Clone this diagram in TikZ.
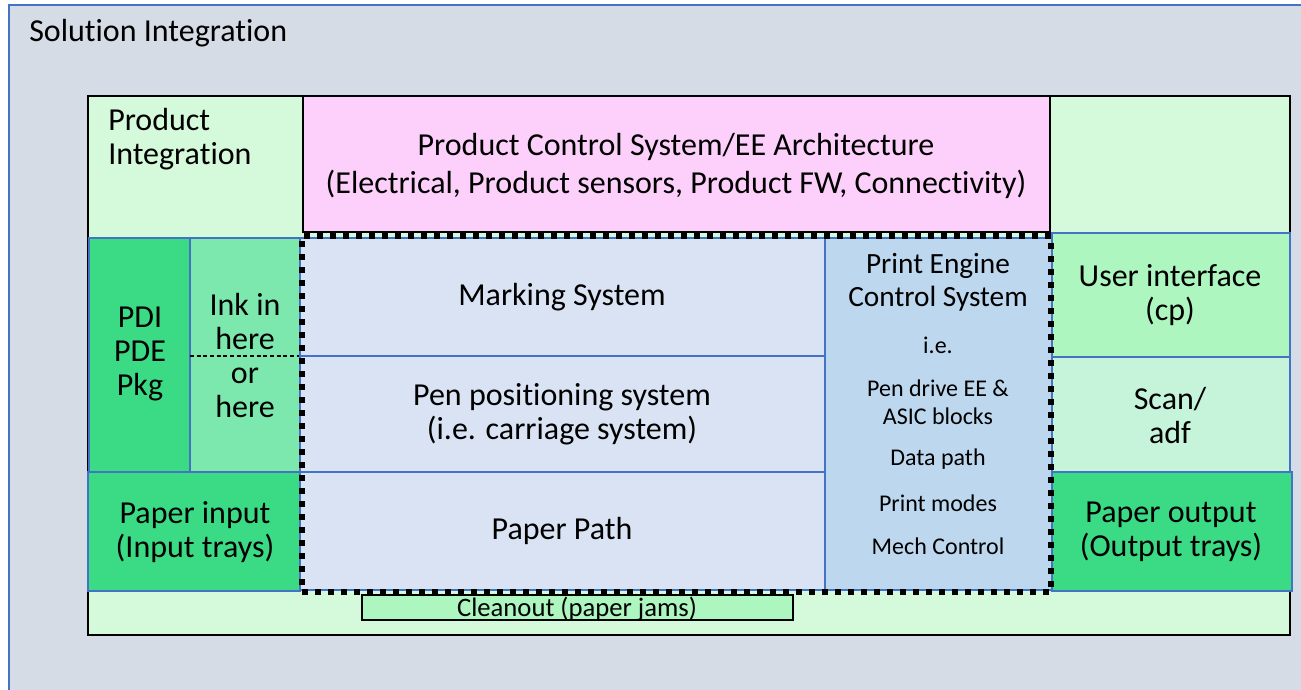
\documentclass[tikz,border=0pt]{standalone}
\usepackage{fontspec}
\setmainfont{Carlito}[Ligatures=NoCommon]
\usetikzlibrary{fit}
\definecolor{outerbg}{HTML}{D6DCE5}
\definecolor{blueline}{HTML}{4472C4}
\definecolor{innerbg}{HTML}{D4F9DB}
\definecolor{pinkbg}{HTML}{FDD0FB}
\definecolor{darkgreen}{HTML}{3ADB84}
\definecolor{inkgreen}{HTML}{7DE8AE}
\definecolor{midblue}{HTML}{DAE3F3}
\definecolor{peblue}{HTML}{BDD7EE}
\definecolor{uigreen}{HTML}{ADF6C0}
\definecolor{scangreen}{HTML}{C6F4DB}
\begin{document}
\begin{tikzpicture}[x=0.75pt,y=-0.75pt,
  area/.style={inner sep=0pt, outer sep=0pt},
  bbox/.style={area, draw=blueline, line width=1.5pt},
  kbox/.style={area, draw=black, line width=1.5pt},
  lbl/.style={font=\fontsize{24}{25.5}\selectfont, align=center, inner sep=0pt, text=black},
  smalllbl/.style={font=\fontsize{18}{21}\selectfont, align=center, inner sep=0pt, text=black},
  dotbox/.style={area, draw=black, line width=4.5pt, dash pattern=on 4.5pt off 5.25pt}]
\useasboundingbox (0,0) rectangle (1301,689);
\begin{scope}
  \clip (0,0) rectangle (1301,689);
  \node[bbox, fill=outerbg, fit={(9,5) (1330,720)}] (sol) {};
\end{scope}
\node[lbl, anchor=west] (soltxt) at (29,33) {Solution Integration};

% product integration box
\node[kbox, fill=innerbg, fit={(88,96) (1290,635)}] (prod) {};
\node[lbl, anchor=west, align=left] (prodtxt) at (108,139) {Product\\Integration};

% pink box
\node[kbox, fill=pinkbg, fit={(303,96) (1050,232)}] (pcs) {};
\node[lbl, font=\fontsize{24}{28.5}\selectfont] (pcstxt) at (676,166) {Product Control System/EE Architecture\\(Electrical, Product sensors, Product FW, Connectivity)};

% left column
\node[bbox, fill=darkgreen, fit={(89,238) (190,472)}] (pdi) {};
\node[lbl] (pditxt) at (140,354) {PDI\\PDE\\Pkg};
\node[bbox, fill=inkgreen, fit={(190,238) (300,472)}] (ink) {};
\node[lbl] (inktxt) at (245,355) {Ink in\\here\\or\\here};
\coordinate (dashL) at (190,356);
\coordinate (dashR) at (300,356);
\draw[black, line width=0.9pt, dash pattern=on 3pt off 2pt] (dashL) -- (dashR);
\node[bbox, fill=darkgreen, fit={(88,472) (300,591)}] (pin) {};
\node[lbl] (pintxt) at (195,532) {Paper input\\(Input trays)};

% middle column
\node[bbox, fill=midblue, fit={(300,238) (825,356)}] (mark) {};
\node[lbl] (marktxt) at (562,297) {Marking System};
\node[bbox, fill=midblue, fit={(300,356) (825,472)}] (pen) {};
\node[lbl] (pentxt) at (562,414) {Pen positioning system\\(i.e. carriage system)};
\node[bbox, fill=midblue, fit={(300,472) (825,590)}] (path) {};
\node[lbl] (pathtxt) at (562,531) {Paper Path};

% print engine control
\node[bbox, fill=peblue, fit={(825,238) (1052,590)}] (pe) {};
\node[lbl, font=\fontsize{22}{24.75}\selectfont] (petitle) at (938,282) {Print Engine\\Control System};
\node[smalllbl] (pe1) at (938,345) {i.e.};
\node[smalllbl] (pe2) at (938,402) {Pen drive EE \&\\ASIC blocks};
\node[smalllbl] (pe3) at (938,459) {Data path};
\node[smalllbl] (pe4) at (938,503) {Print modes};
\node[smalllbl] (pe5) at (938,546) {Mech Control};

% right column
\node[bbox, fill=uigreen, fit={(1052,233) (1290,357)}] (ui) {};
\node[lbl] (uitxt) at (1170,295) {User interface\\(cp)};
\node[bbox, fill=scangreen, fit={(1052,357) (1290,472)}] (scan) {};
\node[lbl] (scantxt) at (1170,415) {Scan/\\adf};
\node[bbox, fill=darkgreen, fit={(1052,472) (1292,591)}] (pout) {};
\node[lbl] (pouttxt) at (1171,532) {Paper output\\(Output trays)};

% print engine dotted outline
\node[dotbox, fit={(302,236) (1051,592)}] (engine) {};

% cleanout
\node[area, draw=black, line width=1.2pt, fill=uigreen, fit={(362,595) (793,620)}] (clean) {};
\node[lbl, font=\fontsize{20}{22}\selectfont] (cleantxt) at (577,609) {Cleanout (paper jams)};
\end{tikzpicture}
\end{document}
